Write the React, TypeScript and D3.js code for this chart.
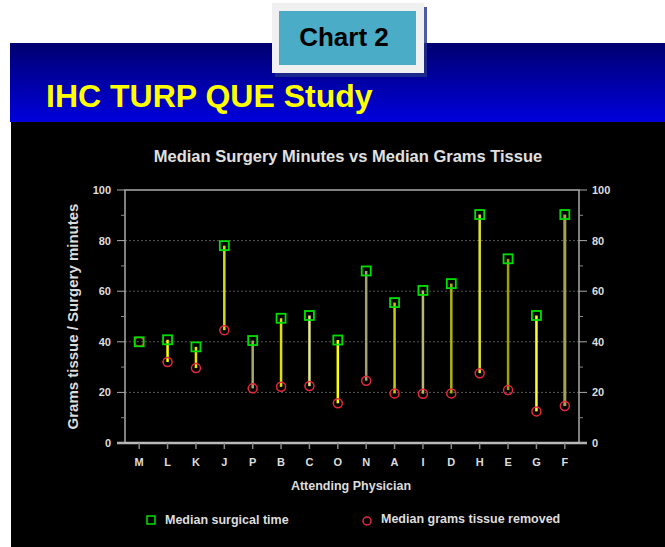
import React from 'react';
import * as d3 from 'd3';

const physicians = ['M', 'L', 'K', 'J', 'P', 'B', 'C', 'O', 'N', 'A', 'I', 'D', 'H', 'E', 'G', 'F'];
const surgicalTime = [40, 40.8, 38, 78, 40.5, 49.3, 50.4, 40.7, 68, 55.5, 60.3, 63, 90.3, 72.8, 50.4, 90.3];
const gramsTissue = [40, 32, 29.6, 44.6, 21.6, 22.2, 22.5, 15.7, 24.6, 19.6, 19.5, 19.6, 27.6, 20.9, 12.5, 14.6];
const yTicks = [0, 20, 40, 60, 80, 100];

// connector colours differ a bit per physician in the original
const lineColors = ['#ffff00', '#ffff00', '#e8e800', '#d8d820', '#a8a860', '#e0e000', '#e8e888', '#ffff00',
  '#a0a070', '#c8c810', '#b8b870', '#b0b010', '#e0e030', '#a0a000', '#ffff30', '#a8a050'];

const W = 665, H = 547;
const m = { left: 125, right: 579, top: 190, bottom: 443 };
const font = '"Liberation Sans", Arial, sans-serif';

export default function App() {
  const x = d3.scaleBand().domain(physicians).range([m.left, m.right]);
  const y = d3.scaleLinear().domain([0, 100]).range([m.bottom, m.top]);
  const minor = d3.range(10, 100, 20);
  const cx = (p: string) => (x(p) as number) + x.bandwidth() / 2;

  return (
    <svg width={W} height={H} style={{ position: 'absolute', left: 0, top: 0 }} fontFamily={font}>
      <defs>
        <linearGradient id="banner" x1="0" y1="0" x2="0" y2="1">
          <stop offset="0" stopColor="#000070" />
          <stop offset="1" stopColor="#0000dc" />
        </linearGradient>
      </defs>
      <rect x={0} y={0} width={W} height={H} fill="#fff" />
      <rect x={10} y={43} width={W - 10} height={79} fill="url(#banner)" />
      <rect x={11} y={122} width={W - 11} height={H - 122} fill="#000" />

      <rect x={275} y={7} width={152} height={70} fill="#22338a" opacity={0.8} />
      <rect x={272} y={3} width={152} height={70} fill="#f0f0f0" />
      <rect x={279} y={11} width={137} height={54} fill="#4aacc6" />
      <text x={344} y={46} textAnchor="middle" fontSize={26} fontWeight="bold" fill="#000">Chart 2</text>

      <text x={46} y={107} fontSize={32} fontWeight="bold" fill="#ffff00">IHC TURP QUE Study</text>

      <text x={348} y={162} textAnchor="middle" fontSize={16.5} fontWeight="bold" fill="#e0e0e0">
        Median Surgery Minutes vs Median Grams Tissue
      </text>

      {yTicks.filter(t => t > 0 && t < 100).map(t => (
        <line key={'g' + t} x1={m.left} x2={m.right} y1={y(t)} y2={y(t)} stroke="#555" strokeDasharray="2,2" />
      ))}

      <rect x={m.left} y={m.top} width={m.right - m.left} height={m.bottom - m.top} fill="none" stroke="#aaa" strokeWidth={1.5} />
      <line x1={m.left - 8} x2={m.right + 8} y1={m.bottom} y2={m.bottom} stroke="#bbb" strokeWidth={2.5} />

      {yTicks.map(t => (
        <g key={'t' + t} fill="#ddd" fontSize={11} fontWeight="bold">
          <line x1={m.left - 8} x2={m.left} y1={y(t)} y2={y(t)} stroke="#aaa" />
          <line x1={m.right} x2={m.right + 8} y1={y(t)} y2={y(t)} stroke="#aaa" />
          <text x={m.left - 14} y={y(t) + 4} textAnchor="end">{t}</text>
          <text x={m.right + 13} y={y(t) + 4}>{t}</text>
        </g>
      ))}
      {minor.map(t => (
        <g key={'m' + t}>
          <line x1={m.left - 4} x2={m.left} y1={y(t)} y2={y(t)} stroke="#888" />
          <line x1={m.right} x2={m.right + 4} y1={y(t)} y2={y(t)} stroke="#888" />
        </g>
      ))}

      {physicians.map(p => (
        <g key={'x' + p}>
          <line x1={cx(p)} x2={cx(p)} y1={m.bottom} y2={m.bottom + 6} stroke="#888" strokeWidth={1.5} />
          <text x={cx(p)} y={466} textAnchor="middle" fontSize={11} fontWeight="bold" fill="#ddd">{p}</text>
        </g>
      ))}

      <text x={351} y={490} textAnchor="middle" fontSize={12.5} fontWeight="bold" fill="#ddd">Attending Physician</text>
      <text transform={`translate(78,${(m.top + m.bottom) / 2}) rotate(-90)`} textAnchor="middle"
        fontSize={15} fontWeight="bold" fill="#ddd">Grams tissue / Surgery minutes</text>

      {physicians.map((p, i) => (
        <line key={'l' + p} x1={cx(p)} x2={cx(p)} y1={y(surgicalTime[i])} y2={y(gramsTissue[i])}
          stroke={lineColors[i]} strokeWidth={i === 15 ? 3 : 2.5} />
      ))}
      {physicians.map((p, i) => (
        <circle key={'c' + p} cx={cx(p)} cy={y(gramsTissue[i])} r={4.5} fill="none" stroke="#e8283c" strokeWidth={1.5} />
      ))}
      {physicians.map((p, i) => (
        <rect key={'s' + p} x={cx(p) - 4.5} y={y(surgicalTime[i]) - 4.5} width={9} height={9}
          fill="none" stroke="#00e000" strokeWidth={1.8} />
      ))}

      <rect x={147} y={516} width={8} height={8} fill="none" stroke="#00e000" strokeWidth={1.5} />
      <text x={165} y={524} fontSize={12.5} fontWeight="bold" fill="#ddd">Median surgical time</text>
      <circle cx={367} cy={521} r={4} fill="none" stroke="#e8283c" strokeWidth={1.5} />
      <text x={381} y={523} fontSize={12.5} fontWeight="bold" fill="#ddd">Median grams tissue removed</text>
    </svg>
  );
}
